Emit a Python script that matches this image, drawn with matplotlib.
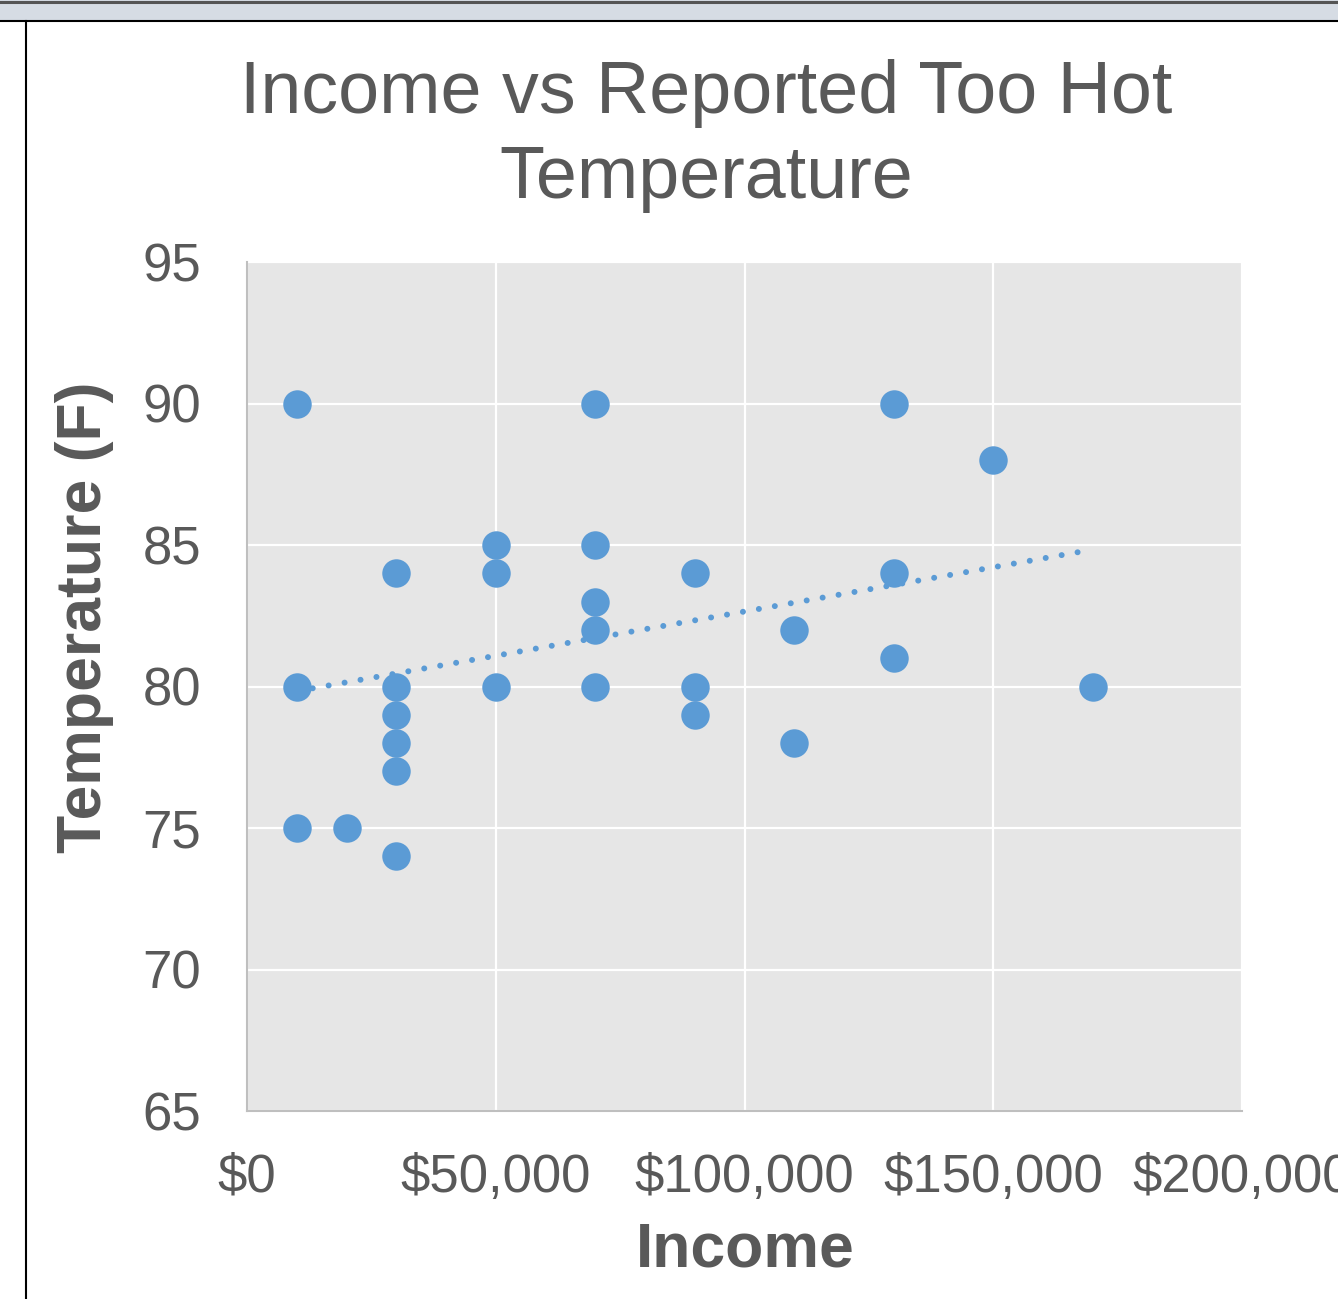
import numpy as np
import matplotlib.pyplot as plt
from matplotlib.lines import Line2D
from matplotlib.patches import Rectangle
from matplotlib.ticker import FuncFormatter

plt.rcParams['font.family'] = ['Liberation Sans', 'DejaVu Sans']

# income ($) and reported too-hot temperature (F)
income = [10000, 10000, 10000,
          20000,
          30000, 30000, 30000, 30000, 30000, 30000,
          50000, 50000, 50000,
          70000, 70000, 70000, 70000, 70000,
          90000, 90000, 90000,
          110000, 110000,
          130000, 130000, 130000,
          150000,
          170000]
temperature = [90, 80, 75,
               75,
               84, 80, 79, 78, 77, 74,
               85, 84, 80,
               90, 85, 83, 82, 80,
               84, 80, 79,
               82, 78,
               90, 84, 81,
               88,
               80]

x_ticks = [0, 50000, 100000, 150000, 200000]
y_ticks = [65, 70, 75, 80, 85, 90, 95]

text_col = '#595959'
blue = '#5B9BD5'

fig = plt.figure(figsize=(13.38, 12.99), dpi=100)

# screenshot frame bits
fig.add_artist(Rectangle((0, 1 - 21 / 1299), 1, 21 / 1299, transform=fig.transFigure,
                         facecolor='#D6DCE4', edgecolor='none'))
fig.add_artist(Line2D([0, 1], [1 - 1.5 / 1299] * 2, transform=fig.transFigure, color='#555555', lw=2.2))
fig.add_artist(Line2D([0, 1], [1 - 21 / 1299] * 2, transform=fig.transFigure, color='black', lw=1.5))
fig.add_artist(Line2D([26 / 1338] * 2, [0, 1 - 21 / 1299], transform=fig.transFigure, color='black', lw=1.5))

ax = fig.add_axes([247 / 1338, 1 - 1111 / 1299, 995 / 1338, 849 / 1299])
ax.set_facecolor('#E6E6E6')
ax.set_xlim(0, 200000)
ax.set_ylim(65, 95)
ax.set_xticks(x_ticks)
ax.set_yticks(y_ticks)
ax.xaxis.set_major_formatter(FuncFormatter(lambda v, p: '${:,.0f}'.format(v)))
ax.grid(True, color='white', lw=1.6)
ax.set_axisbelow(True)
for s in ['top', 'right']:
    ax.spines[s].set_visible(False)
for s in ['left', 'bottom']:
    ax.spines[s].set_color('#BFBFBF')
    ax.spines[s].set_linewidth(1.5)
ax.tick_params(length=0, labelsize=38, colors=text_col)
ax.tick_params(axis='y', pad=33)
ax.tick_params(axis='x', pad=30)
for lab in ax.get_xticklabels():
    lab.set_clip_on(False)

ax.scatter(income, temperature, s=420, color=blue, zorder=3, linewidths=0)

# linear trendline
k, b = np.polyfit(income, temperature, 1)
tx = np.array([min(income), max(income)])
ax.plot(tx, k * tx + b, color=blue, lw=4.3, linestyle=(0, (0.01, 2.7)),
        dash_capstyle='round', zorder=2)

fig.text(706 / 1338, 1 - 136 / 1299, 'Income vs Reported Too Hot\nTemperature',
         ha='center', va='center', fontsize=53, color=text_col, linespacing=1.3)
fig.text(745 / 1338, 1 - 1250 / 1299, 'Income', ha='center', va='center',
         fontsize=45, fontweight='bold', color=text_col)
fig.text(85 / 1338, 1 - 617 / 1299, 'Temperature (F)', ha='center', va='center',
         rotation=90, fontsize=45, fontweight='bold', color=text_col)

fig.savefig('out.png', dpi=100)
